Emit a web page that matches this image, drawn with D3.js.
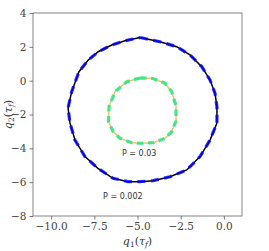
<!DOCTYPE html>
<html><head><meta charset="utf-8">
<script src="https://cdn.jsdelivr.net/npm/d3@7"></script>
<style>body{margin:0;background:#fff}svg{display:block}</style>
</head><body>
<script>
// Outer trajectory (P = 0.002): solid black and dashed blue
const outerQ1 = [-4.85,-3.70,-2.73,-1.96,-1.28,-0.80,-0.51,-0.40,-0.40,-0.80,-1.38,-2.15,-3.12,-4.10,-4.85,-5.55,-6.42,-7.29,-8.04,-8.62,-8.91,-9.02,-8.81,-8.39,-7.85,-7.27,-6.49,-5.72];
const outerQ2 = [2.55,2.30,2.01,1.52,0.83,0.04,-0.75,-1.56,-2.50,-3.51,-4.49,-5.28,-5.68,-5.91,-5.97,-5.97,-5.77,-5.18,-4.49,-3.51,-2.50,-1.61,-0.65,0.53,1.22,1.71,2.11,2.36];
const outerDashQ1 = [-4.85,-3.70,-2.73,-1.96,-1.28,-0.80,-0.51,-0.40,-0.40,-0.80,-1.38,-2.15,-3.12,-4.10,-4.85,-5.55,-6.42,-7.29,-8.04,-8.62,-8.91,-9.02,-8.81,-8.39,-7.85,-7.27,-6.49,-5.72];
const outerDashQ2 = [2.55,2.30,2.01,1.52,0.83,0.04,-0.75,-1.56,-2.50,-3.51,-4.49,-5.28,-5.68,-5.91,-5.97,-5.97,-5.77,-5.18,-4.49,-3.51,-2.50,-1.61,-0.65,0.53,1.22,1.71,2.11,2.36];
// Inner trajectory (P = 0.03): solid orange and dashed green
const innerQ1 = [-4.85,-4.10,-3.41,-3.02,-2.77,-2.77,-3.02,-3.41,-4.08,-4.85,-5.33,-6.01,-6.40,-6.68,-6.65,-6.30,-5.62];
const innerQ2 = [0.16,0.13,-0.15,-0.65,-1.50,-2.38,-3.02,-3.41,-3.67,-3.70,-3.67,-3.41,-3.02,-2.44,-1.54,-0.65,-0.06];
const innerDashQ1 = innerQ1.slice();
const innerDashQ2 = innerQ2.slice();
const xTicks = [-10.0,-7.5,-5.0,-2.5,0.0];
const yTicks = [-8,-6,-4,-2,0,2,4];
const annotations = [{text:"P = 0.03", q1:-4.9, q2:-4.45},{text:"P = 0.002", q1:-5.85, q2:-7.0}];

const W=269,H=251;
const L=33,R=242,T=13,B=216;
const svg=d3.select("body").append("svg").attr("width",W).attr("height",H);
const x=d3.scaleLinear().domain([-11.05,1.05]).range([L,R]);
const y=d3.scaleLinear().domain([-8,4]).range([B,T]);

function pts(a,b){const p=a.map((v,i)=>[v,b[i]]);p.push(p[0]);return p;}
const line=d3.line().x(d=>x(d[0])).y(d=>y(d[1]));

svg.append("path").attr("d",line(pts(outerQ1,outerQ2))).attr("fill","none").attr("stroke","#000").attr("stroke-width",1.5);
svg.append("path").attr("d",line(pts(outerDashQ1,outerDashQ2))).attr("fill","none").attr("stroke","#0000ff").attr("stroke-opacity",0.8).attr("stroke-width",3.2).attr("stroke-dasharray","8,5.5");
svg.append("path").attr("d",line(pts(innerQ1,innerQ2))).attr("fill","none").attr("stroke","#fdbf6f").attr("stroke-width",1.5);
svg.append("path").attr("d",line(pts(innerDashQ1,innerDashQ2))).attr("fill","none").attr("stroke","#2ee884").attr("stroke-opacity",0.9).attr("stroke-width",3.2).attr("stroke-dasharray","6.5,4.5");

svg.selectAll("text.ann").data(annotations).enter().append("text").attr("class","ann")
  .attr("x",d=>x(d.q1)).attr("y",d=>y(d.q2)).attr("text-anchor","middle")
  .attr("font-family","DejaVu Sans").attr("font-size",8).attr("fill","#333").text(d=>d.text);

const fmtX=d=>(d<0?"\u2212":"")+Math.abs(d).toFixed(1);
const fmtY=d=>(d<0?"\u2212":"")+Math.abs(d);
const gx=svg.append("g").attr("transform",`translate(0,${B})`).call(d3.axisBottom(x).tickValues(xTicks).tickFormat(fmtX).tickSize(3.5).tickPadding(3));
const gy=svg.append("g").attr("transform",`translate(${L},0)`).call(d3.axisLeft(y).tickValues(yTicks).tickFormat(fmtY).tickSize(3.5).tickPadding(3));
[gx,gy].forEach(g=>{g.select(".domain").remove();g.selectAll("line").attr("stroke","#555").attr("stroke-width",0.8);
  g.selectAll("text").attr("font-family","DejaVu Serif").attr("font-size",10.5).attr("fill","#444");});
svg.append("rect").attr("x",L).attr("y",T).attr("width",R-L).attr("height",B-T).attr("fill","none").attr("stroke","#666").attr("stroke-width",0.8);

const xl=svg.append("text").attr("x",(L+R)/2).attr("y",245).attr("text-anchor","middle")
  .attr("font-family","DejaVu Serif").attr("font-size",11).attr("fill","#333");
xl.append("tspan").attr("font-style","italic").text("q");
xl.append("tspan").attr("font-size",7.5).attr("dy",2).text("1");
xl.append("tspan").attr("dy",-2).text("(");
xl.append("tspan").attr("font-style","italic").text("τ");
xl.append("tspan").attr("font-style","italic").attr("font-size",7.5).attr("dy",2).text("f");
xl.append("tspan").attr("dy",-2).text(")");
const yl=svg.append("text").attr("transform",`translate(12,${(T+B)/2}) rotate(-90)`).attr("text-anchor","middle")
  .attr("font-family","DejaVu Serif").attr("font-size",11).attr("fill","#333");
yl.append("tspan").attr("font-style","italic").text("q");
yl.append("tspan").attr("font-size",7.5).attr("dy",2).text("2");
yl.append("tspan").attr("dy",-2).text("(");
yl.append("tspan").attr("font-style","italic").text("τ");
yl.append("tspan").attr("font-style","italic").attr("font-size",7.5).attr("dy",2).text("f");
yl.append("tspan").attr("dy",-2).text(")");
</script>
</body></html>
